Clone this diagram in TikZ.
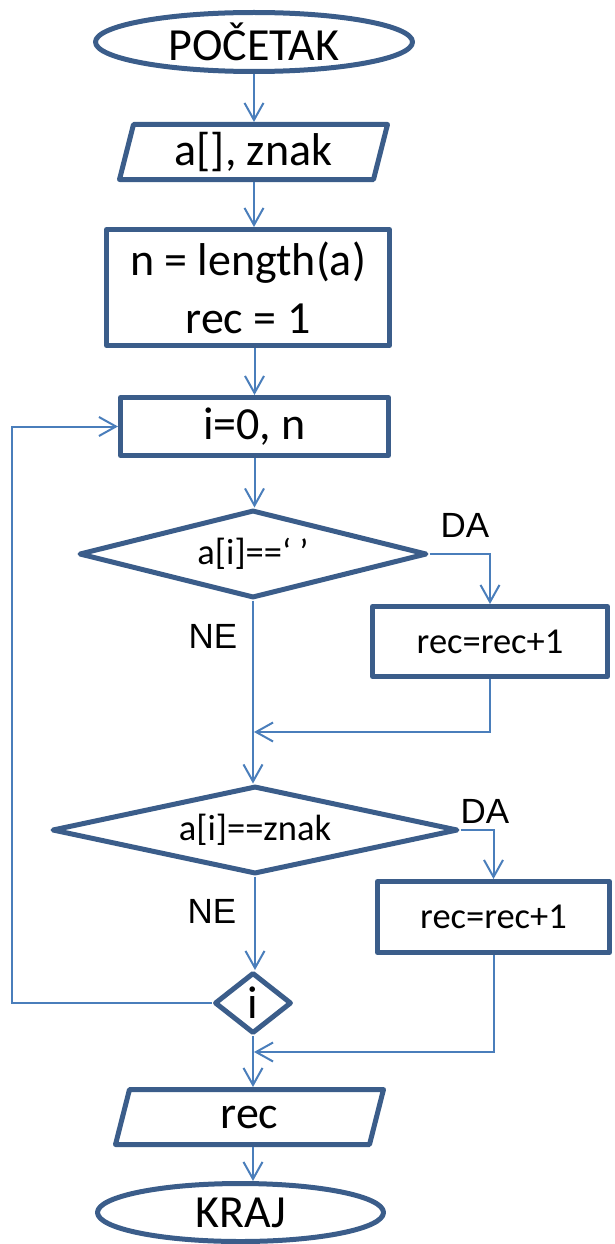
\documentclass[tikz,border=0pt]{standalone}
\usepackage{fontspec}
\setmainfont{Carlito}
\newfontfamily\arialf{Liberation Sans}
\usetikzlibrary{shapes.geometric,arrows.meta}
\definecolor{shpcol}{RGB}{59,93,138}
\definecolor{conncol}{RGB}{74,126,187}
\tikzset{
  shp/.style={draw=shpcol,line width=5pt,line join=round},
  big/.style={font=\fontsize{46}{58}\selectfont},
  small/.style={font=\fontsize{36.5}{44}\selectfont},
  term/.style={shp,ellipse,inner sep=0pt,big},
  procbox/.style={shp,rectangle,inner sep=0pt,align=center},
  decis/.style={shp,diamond,inner sep=0pt,small},
  iobox/.style={rectangle,inner sep=0pt,outer sep=2.5pt,minimum height=55pt,minimum width=268pt,big},
  conn/.style={draw=conncol,line width=2pt,-{Straight Barb[length=17pt,width=19pt]}},
  lbl/.style={font=\arialf\fontsize{35}{40}\selectfont,inner sep=0pt}
}
\begin{document}
\begin{tikzpicture}[x=1pt,y=-1pt]
\useasboundingbox (0,0) rectangle (614,1244);
% nodes
\node[term,minimum width=317pt,minimum height=59pt] (start) at (254,42) {POČETAK};
\node[iobox] (in) at (253.5,152) {a[], znak};
\draw[shp] (in.center) ++(-134,27.5) -- ++(254,0) -- ++(14,-55) -- ++(-254,0) -- cycle;
\node[procbox,big,minimum width=283pt,minimum height=116pt] (init) at (248,287.5) {n = length(a)\\rec = 1};
\node[procbox,big,minimum width=268pt,minimum height=58pt] (loop) at (254.5,426.5) {i=0, n};
\node[decis,shape aspect=3.95,minimum width=348pt,minimum height=88pt] (d1) at (253,554) {a[i]==‘ ’};
\node[procbox,small,minimum width=235pt,minimum height=70pt] (r1) at (490,641.5) {rec=rec+1};
\node[decis,shape aspect=4.6,minimum width=406pt,minimum height=88pt] (d2) at (255,830) {a[i]==znak};
\node[shp,diamond,shape aspect=1.26,inner sep=0pt,big,minimum width=77pt,minimum height=61pt] (dl) at (253,1003) {i};
\node[procbox,small,minimum width=232pt,minimum height=71pt] (r2) at (493.5,917) {rec=rec+1};
\node[iobox] (out) at (249.5,1117) {rec};
\draw[shp] (out.center) ++(-134,27.5) -- ++(254,0) -- ++(14,-55) -- ++(-254,0) -- cycle;
\node[term,minimum width=286pt,minimum height=58pt] (end) at (240.5,1212.5) {KRAJ};
% labels
\node[lbl] (da1) at (465,525) {DA};
\node[lbl] (ne1) at (213,636) {NE};
\node[lbl] (da2) at (485,811) {DA};
\node[lbl] (ne2) at (212,911) {NE};
% helper coordinates
\coordinate (lp) at (12,700);
\coordinate (j1) at (254,732);
\coordinate (j2) at (254,1052);
% connectors
\draw[conn] (start.south) -- (start.south |- in.north);
\draw[conn] (start.south |- in.south) -- (start.south |- init.north);
\draw[conn] (loop.south |- init.south) -- (loop.south |- loop.north);
\draw[conn] (loop.south) -- (loop.south |- d1.north);
\draw[conn] (d1.east) -| (r1.north);
\draw[conn] (r1.south) |- (j1);
\draw[conn] (d1.south) -- (d1.south |- d2.north);
\draw[conn] (d2.east) -| (r2.north);
\draw[conn] (d2.south) -- (d2.south |- dl.north);
\draw[conn] (dl.west) -- (dl.west -| lp) -- (lp |- loop.west) -- (loop.west);
\draw[conn] (r2.south) |- (j2);
\draw[conn] (dl.south) -- (dl.south |- out.north);
\draw[conn] (dl.south |- out.south) -- (dl.south |- end.north);
\end{tikzpicture}
\end{document}
